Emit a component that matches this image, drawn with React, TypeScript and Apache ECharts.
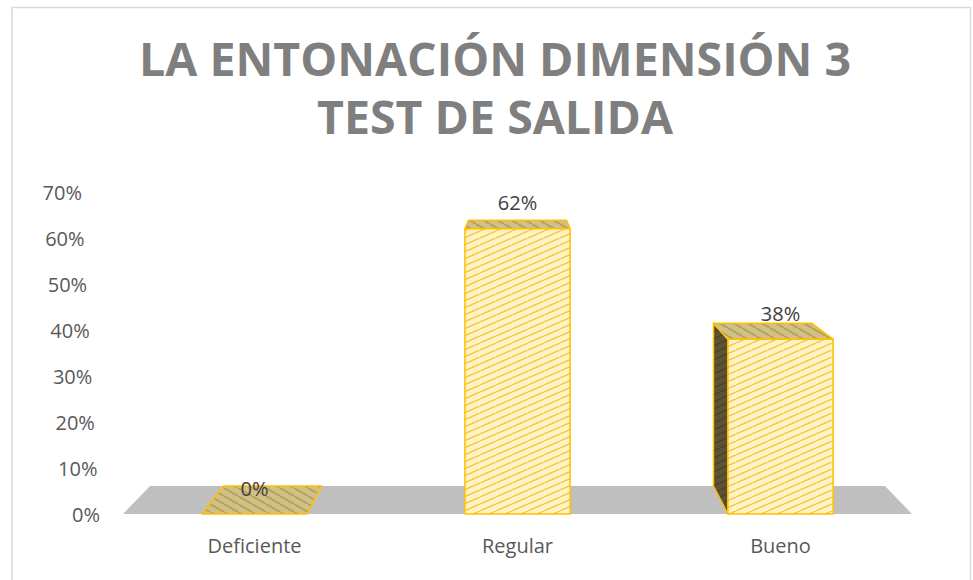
import React, { useEffect, useRef } from "react";
import * as echarts from "echarts";

const TITLE_LINES = ["LA ENTONACIÓN DIMENSIÓN 3", "TEST DE SALIDA"];
const CATEGORIES = ["Deficiente", "Regular", "Bueno"];
const VALUES = [0, 62, 38];
const Y_TICKS = [0, 10, 20, 30, 40, 50, 60, 70];

const DEPTH_T = 0.0685;
const VP_RISE = 409;

function makeStripes(bg: string, fg: string, w: number, h: number, dir: "/" | "\\", lw: number) {
  const c = document.createElement("canvas");
  c.width = w;
  c.height = h;
  const ctx = c.getContext("2d")!;
  ctx.fillStyle = bg;
  ctx.fillRect(0, 0, w, h);
  ctx.strokeStyle = fg;
  ctx.lineWidth = lw;
  for (const off of [-w, 0, w]) {
    ctx.beginPath();
    if (dir === "/") {
      ctx.moveTo(off, h);
      ctx.lineTo(off + w, 0);
    } else {
      ctx.moveTo(off, 0);
      ctx.lineTo(off + w, h);
    }
    ctx.stroke();
  }
  return { image: c, repeat: "repeat", imageWidth: w, imageHeight: h } as any;
}

export default function App() {
  const ref = useRef<HTMLDivElement>(null);
  useEffect(() => {
    if (!ref.current) return;
    const chart = echarts.init(ref.current, null, { renderer: "svg" });

    const frontFill = makeStripes("#fff3c6", "#f5c535", 16, 7, "/", 1.4);
    const topFill = makeStripes("#cfc08c", "#b8a552", 14, 8, "\\", 2);
    const sideFill = makeStripes("#5d5334", "#4a4127", 16, 7, "/", 1.4);

    const rich: Record<string, any> = {};
    Y_TICKS.forEach((v) => {
      rich["r" + v] = {
        fontSize: 20,
        color: "#595959",
        fontFamily: "Open Sans",
        padding: [0, (18 * v) / 70, 0, 0],
      };
    });

    const option: any = {
      animation: false,
      textStyle: { fontFamily: "Open Sans" },
      title: {
        text: TITLE_LINES.join("\n"),
        left: 490,
        textAlign: "center",
        top: 24,
        textStyle: {
          fontFamily: "Open Sans",
          fontWeight: "bold",
          fontSize: 46.5,
          lineHeight: 58,
          color: "#7f7f7f",
        },
      },
      graphic: [
        {
          type: "rect",
          z: -10,
          silent: true,
          shape: { x: 12, y: 7.5, width: 958.5, height: 620 },
          style: { fill: "#ffffff", stroke: "#d9d9d9", lineWidth: 1.5 },
        },
      ],
      grid: { left: 123, right: 61, top: 192, bottom: 66 },
      xAxis: {
        type: "category",
        data: CATEGORIES,
        axisLine: { show: false },
        axisTick: { show: false },
        axisLabel: { fontSize: 20, color: "#595959", margin: 21, fontFamily: "Open Sans" },
      },
      yAxis: {
        type: "value",
        min: 0,
        max: 70,
        interval: 10,
        splitLine: { show: false },
        axisLine: { show: false },
        axisTick: { show: false },
        axisLabel: {
          margin: 23,
          formatter: (v: number) => `{r${v}|${v}%}`,
          rich,
        },
      },
      series: [
        {
          type: "custom",
          silent: true,
          z: 1,
          data: [[0, 0]],
          encode: { x: 0, y: 1 },
          renderItem: (params: any, api: any) => {
            const cs = params.coordSys;
            const y0 = api.coord([0, 0])[1];
            const vpx = cs.x + cs.width / 2;
            const vpy = y0 - VP_RISE;
            const back = (x: number, y: number) => [x + (vpx - x) * DEPTH_T, y + (vpy - y) * DEPTH_T];
            const xl = cs.x;
            const xr = cs.x + cs.width;
            return {
              type: "polygon",
              shape: { points: [[xl, y0], [xr, y0], back(xr, y0), back(xl, y0)] },
              style: { fill: "#bfbfbf" },
            };
          },
        },
        {
          type: "custom",
          silent: true,
          z: 2,
          data: VALUES.map((v, i) => [i, v]),
          encode: { x: 0, y: 1 },
          renderItem: (params: any, api: any) => {
            const idx = api.value(0);
            const v = api.value(1);
            const base = api.coord([idx, 0]);
            const tp = api.coord([idx, v]);
            const cx = base[0];
            const y0 = base[1];
            const y1 = tp[1];
            const hw = api.size([1, 0])[0] * 0.2;
            const cs = params.coordSys;
            const vpx = cs.x + cs.width / 2;
            const vpy = y0 - VP_RISE;
            const back = (x: number, y: number) => [x + (vpx - x) * DEPTH_T, y + (vpy - y) * DEPTH_T];
            const xl = cx - hw;
            const xr = cx + hw;
            const ftl = [xl, y1];
            const ftr = [xr, y1];
            const fbl = [xl, y0];
            const fbr = [xr, y0];
            const btl = back(xl, y1);
            const btr = back(xr, y1);
            const bbl = back(xl, y0);
            const bbr = back(xr, y0);
            const stroke = { stroke: "#ffc000", lineWidth: 1.5, lineJoin: "round" };
            const children: any[] = [];
            const h = y0 - y1;
            if (h > 0.5 && xl > vpx) {
              children.push({
                type: "polygon",
                shape: { points: [ftl, btl, bbl, fbl] },
                style: { fill: sideFill, ...stroke },
              });
            }
            if (h > 0.5 && xr < vpx) {
              children.push({
                type: "polygon",
                shape: { points: [ftr, btr, bbr, fbr] },
                style: { fill: sideFill, ...stroke },
              });
            }
            children.push({
              type: "polygon",
              shape: { points: [ftl, ftr, btr, btl] },
              style: { fill: topFill, ...stroke },
            });
            if (h > 0.5) {
              children.push({
                type: "rect",
                shape: { x: xl, y: y1, width: xr - xl, height: h },
                style: { fill: frontFill, ...stroke },
              });
            }
            children.push({
              type: "text",
              style: {
                text: v + "%",
                x: cx,
                y: y1 - 26,
                align: "center",
                verticalAlign: "middle",
                fill: "#404040",
                font: "20px 'Open Sans'",
              },
            });
            return { type: "group", children };
          },
        },
      ],
    };
    chart.setOption(option);
    return () => chart.dispose();
  }, []);
  return (
    <div
      ref={ref}
      style={{ position: "absolute", left: 0, top: 0, width: 973, height: 580, background: "#ffffff" }}
    />
  );
}
